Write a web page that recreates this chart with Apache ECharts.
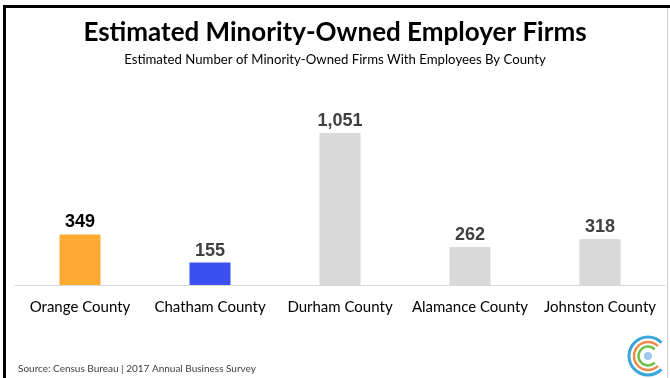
<!DOCTYPE html>
<html><head><meta charset="utf-8">
<script src="https://cdn.jsdelivr.net/npm/echarts@6/dist/echarts.min.js"></script>
<style>html,body{margin:0;padding:0;background:#fff}#c{width:670px;height:378px}</style>
</head><body><div id="c"></div>
<script>
const categories = ['Orange County','Chatham County','Durham County','Alamance County','Johnston County'];
const values = [349, 155, 1051, 262, 318];
const barColors = ['#FFAB33','#3B50F0','#D9D9D9','#D9D9D9','#D9D9D9'];
const labelColors = ['#000000','#404040','#404040','#404040','#404040'];

const chart = echarts.init(document.getElementById('c'), null, {renderer:'canvas'});
chart.setOption({
  animation:false,
  title:[
    {text:'Estimated Minority-Owned Employer Firms', left:'center', top:15,
     textStyle:{fontFamily:'Lato', fontWeight:'bold', fontSize:26, color:'#000'}},
    {text:'Estimated Number of Minority-Owned Firms With Employees By County', left:'center', top:48,
     textStyle:{fontFamily:'Lato', fontWeight:'normal', fontSize:13.2, color:'#000'}},
    {text:'Source: Census Bureau | 2017 Annual Business Survey', left:13, top:359,
     textStyle:{fontFamily:'Lato', fontWeight:'normal', fontSize:10, color:'#404040'}}
  ],
  grid:{left:15, right:5, top:82.5, bottom:93, containLabel:false},
  xAxis:{type:'category', data:categories,
    axisLine:{lineStyle:{color:'#D9D9D9', width:1}}, axisTick:{show:false},
    axisLabel:{interval:0, fontFamily:'Lato', fontSize:15, color:'#000', margin:15}},
  yAxis:{type:'value', min:0, max:1400, show:false, splitLine:{show:false}},
  series:[{type:'bar', barWidth:41,
    data: values.map((v,i)=>({value:v, itemStyle:{color:barColors[i]},
      label:{color:labelColors[i]}})),
    label:{show:true, position:'top', distance:3,
      fontFamily:'Liberation Sans', fontWeight:'bold', fontSize:18,
      formatter:p=>p.value.toLocaleString('en-US')}
  }],
  graphic:[
    {type:'rect', shape:{x:3,y:5,width:667,height:3}, style:{fill:'#000'}},
    {type:'rect', shape:{x:3,y:5,width:3,height:373}, style:{fill:'#000'}},
    {type:'rect', shape:{x:667,y:8,width:1,height:370}, style:{fill:'#D0D0D0'}},
    {type:'arc', shape:{cx:648,cy:356,r:19,startAngle:Math.PI*0.25,endAngle:Math.PI*1.75,clockwise:true},
      style:{stroke:'#3AA6DC', lineWidth:3, fill:null}},
    {type:'arc', shape:{cx:648,cy:356,r:14,startAngle:Math.PI*0.25,endAngle:Math.PI*1.75,clockwise:true},
      style:{stroke:'#F08A4B', lineWidth:2.5, fill:null}},
    {type:'arc', shape:{cx:648,cy:356,r:9.5,startAngle:Math.PI*0.25,endAngle:Math.PI*1.75,clockwise:true},
      style:{stroke:'#6CC24A', lineWidth:2.5, fill:null}},
    {type:'circle', shape:{cx:648,cy:356,r:4}, style:{fill:'#9CC8EE'}}
  ]
});
</script></body></html>
